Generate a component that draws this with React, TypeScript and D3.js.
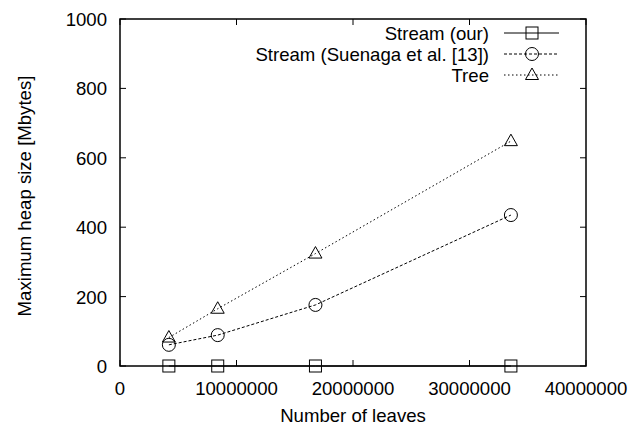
import React from "react";
import * as d3 from "d3";

const leaves = [4194304, 8388608, 16777216, 33554432];
const streamOur = [0, 0, 0, 0];
const streamSuenaga = [61, 89, 176, 435];
const tree = [82, 165, 324, 648];
const xTicks = [0, 10000000, 20000000, 30000000, 40000000];
const yTicks = [0, 200, 400, 600, 800, 1000];
const seriesNames = ["Stream (our)", "Stream (Suenaga et al. [13])", "Tree"];

const W = 635, H = 430;
const L = 120, R = 586, T = 19, B = 366;
const FONT = "Liberation Sans, Arial, sans-serif";
const FS = 18.6;

function Marker({ kind, x, y }: { kind: number; x: number; y: number }) {
  if (kind === 0) return <rect x={x - 6} y={y - 6} width={12} height={12} fill="none" stroke="#000" strokeWidth={1} />;
  if (kind === 1) return <circle cx={x} cy={y} r={6.5} fill="none" stroke="#000" strokeWidth={1} />;
  return <path d={`M${x},${y - 7}L${x + 6.5},${y + 4.5}L${x - 6.5},${y + 4.5}Z`} fill="none" stroke="#000" strokeWidth={1} />;
}

export default function App() {
  const x = d3.scaleLinear().domain([0, 40000000]).range([L, R]);
  const y = d3.scaleLinear().domain([0, 1000]).range([B, T]);
  const data = [streamOur, streamSuenaga, tree];
  const dashes = ["none", "3,2", "1.5,2.5"];
  const line = d3.line<number>().x((_, i) => x(leaves[i])).y((v) => y(v));
  const legendY = [33, 54, 75];
  return (
    <svg width={W} height={H} style={{ position: "absolute", left: 0, top: 0 }} fontFamily={FONT}>
      <rect width={W} height={H} fill="#fff" />
      {xTicks.map((t) => (
        <g key={"x" + t}>
          <line x1={x(t)} x2={x(t)} y1={B} y2={B - 6} stroke="#000" />
          <line x1={x(t)} x2={x(t)} y1={T} y2={T + 6} stroke="#000" />
          <text x={x(t)} y={395} fontSize={FS} textAnchor="middle">{t}</text>
        </g>
      ))}
      {yTicks.map((t) => (
        <g key={"y" + t}>
          <line x1={L} x2={L + 6} y1={y(t)} y2={y(t)} stroke="#000" />
          <line x1={R} x2={R - 6} y1={y(t)} y2={y(t)} stroke="#000" />
          <text x={107} y={y(t) + 7} fontSize={FS} textAnchor="end">{t}</text>
        </g>
      ))}
      {data.map((s, k) => (
        <g key={"s" + k}>
          <path d={line(s) || ""} fill="none" stroke="#000" strokeWidth={1} strokeDasharray={dashes[k]} />
          {s.map((v, i) => <Marker key={i} kind={k} x={x(leaves[i])} y={y(v)} />)}
        </g>
      ))}
      <rect x={L} y={T} width={R - L} height={B - T} fill="none" stroke="#000" strokeWidth={1.5} />
      {seriesNames.map((n, k) => (
        <g key={"l" + k}>
          <text x={489} y={legendY[k] + 7} fontSize={FS} textAnchor="end">{n}</text>
          <line x1={504} x2={559} y1={legendY[k]} y2={legendY[k]} stroke="#000" strokeDasharray={dashes[k]} />
          <Marker kind={k} x={532} y={legendY[k]} />
        </g>
      ))}
      <text x={353} y={422} fontSize={FS} textAnchor="middle">Number of leaves</text>
      <text transform={`translate(31,196) rotate(-90)`} fontSize={FS} textAnchor="middle">Maximum heap size [Mbytes]</text>
    </svg>
  );
}
